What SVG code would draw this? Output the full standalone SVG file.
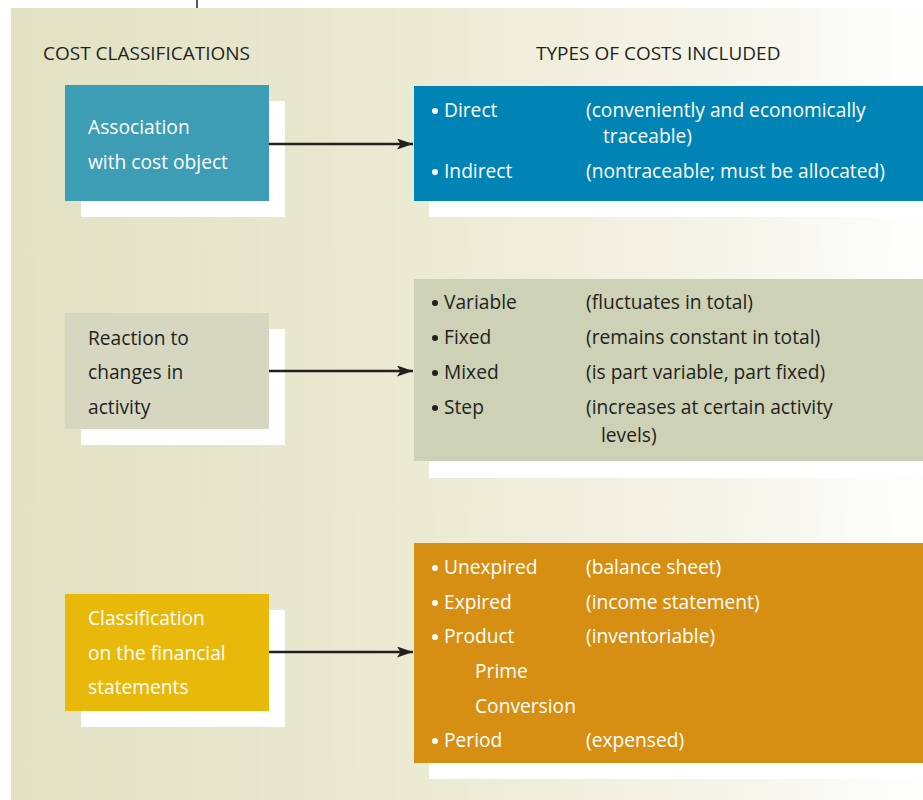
<svg xmlns="http://www.w3.org/2000/svg" width="923" height="800" viewBox="0 0 923 800">
<defs>
<linearGradient id="bg" x1="0" y1="0" x2="1" y2="0">
<stop offset="0" stop-color="#e2e1c3"/>
<stop offset="0.45" stop-color="#ebead3"/>
<stop offset="0.75" stop-color="#f4f3e7"/>
<stop offset="1" stop-color="#fefefd"/>
</linearGradient>
<marker id="arr" markerWidth="16" markerHeight="11" refX="16" refY="5.5" orient="auto" markerUnits="userSpaceOnUse">
<path d="M0,0 L16,5.5 L0,11 L3.5,5.5 Z" fill="#231f20"/>
</marker>
<style>
text{font-family:"Open Sans","Liberation Sans",sans-serif;font-size:19.2px}
.hd{fill:#231f20;font-size:19px}
.w{fill:#ffffff}
.d{fill:#231f20}
.sh{fill:#ffffff}
.conn line{stroke:#231f20;stroke-width:2.4}
</style>
</defs>
<rect width="923" height="800" fill="#ffffff"/>
<rect x="11" y="8" width="912" height="792" fill="url(#bg)"/>
<line x1="197" y1="0" x2="197" y2="8" stroke="#231f20" stroke-width="1.5"/>
<text class="hd" x="43" y="60">COST CLASSIFICATIONS</text>
<text class="hd" x="536" y="60">TYPES OF COSTS INCLUDED</text>

<g id="assoc">
<rect class="sh" x="81" y="101" width="204" height="116"/>
<rect x="65" y="85" width="204" height="116" fill="#3c9db5"/>
<text class="w" x="88" y="134">Association</text>
<text class="w" x="88" y="169">with cost object</text>
</g>
<g id="reaction">
<rect class="sh" x="81" y="329" width="204" height="116"/>
<rect x="65" y="313" width="204" height="116" fill="#d5d7c0"/>
<text class="d" x="88" y="345">Reaction to</text>
<text class="d" x="88" y="379">changes in</text>
<text class="d" x="88" y="414">activity</text>
</g>
<g id="classif">
<rect class="sh" x="81" y="610" width="204" height="117"/>
<rect x="65" y="594" width="204" height="117" fill="#e8b80a"/>
<text class="w" x="88" y="625">Classification</text>
<text class="w" x="88" y="660">on the financial</text>
<text class="w" x="88" y="694">statements</text>
</g>

<g id="types1">
<rect class="sh" x="429" y="102" width="494" height="115"/>
<rect x="414" y="86" width="509" height="115" fill="#0084b5"/>
<g class="w">
<circle cx="435" cy="111" r="3"/><text x="444" y="117">Direct</text>
<text x="586" y="117">(conveniently and economically</text>
<text x="603" y="143">traceable)</text>
<circle cx="435" cy="172" r="3"/><text x="444" y="178">Indirect</text>
<text x="586" y="178">(nontraceable; must be allocated)</text>
</g>
</g>
<g id="types2">
<rect class="sh" x="429" y="295" width="494" height="183"/>
<rect x="414" y="279" width="509" height="182" fill="#cdd1b5"/>
<g class="d">
<circle cx="435" cy="303" r="3"/><text x="444" y="309">Variable</text>
<text x="586" y="309">(fluctuates in total)</text>
<circle cx="435" cy="338" r="3"/><text x="444" y="344">Fixed</text>
<text x="586" y="344">(remains constant in total)</text>
<circle cx="435" cy="373" r="3"/><text x="444" y="379">Mixed</text>
<text x="586" y="379">(is part variable, part fixed)</text>
<circle cx="435" cy="408" r="3"/><text x="444" y="414">Step</text>
<text x="586" y="414">(increases at certain activity</text>
<text x="601" y="442">levels)</text>
</g>
</g>
<g id="types3">
<rect class="sh" x="429" y="559" width="494" height="220"/>
<rect x="414" y="543" width="509" height="220" fill="#d68f12"/>
<g class="w">
<circle cx="435" cy="568" r="3"/><text x="444" y="574">Unexpired</text>
<text x="586" y="574">(balance sheet)</text>
<circle cx="435" cy="603" r="3"/><text x="444" y="609">Expired</text>
<text x="586" y="609">(income statement)</text>
<circle cx="435" cy="637" r="3"/><text x="444" y="643">Product</text>
<text x="586" y="643">(inventoriable)</text>
<text x="475" y="678">Prime</text>
<text x="475" y="713">Conversion</text>
<circle cx="435" cy="741" r="3"/><text x="444" y="747">Period</text>
<text x="586" y="747">(expensed)</text>
</g>
</g>

<g class="conn">
<line x1="269" y1="144" x2="413" y2="144" marker-end="url(#arr)"/>
<line x1="269" y1="371" x2="413" y2="371" marker-end="url(#arr)"/>
<line x1="269" y1="652" x2="413" y2="652" marker-end="url(#arr)"/>
</g>
</svg>
